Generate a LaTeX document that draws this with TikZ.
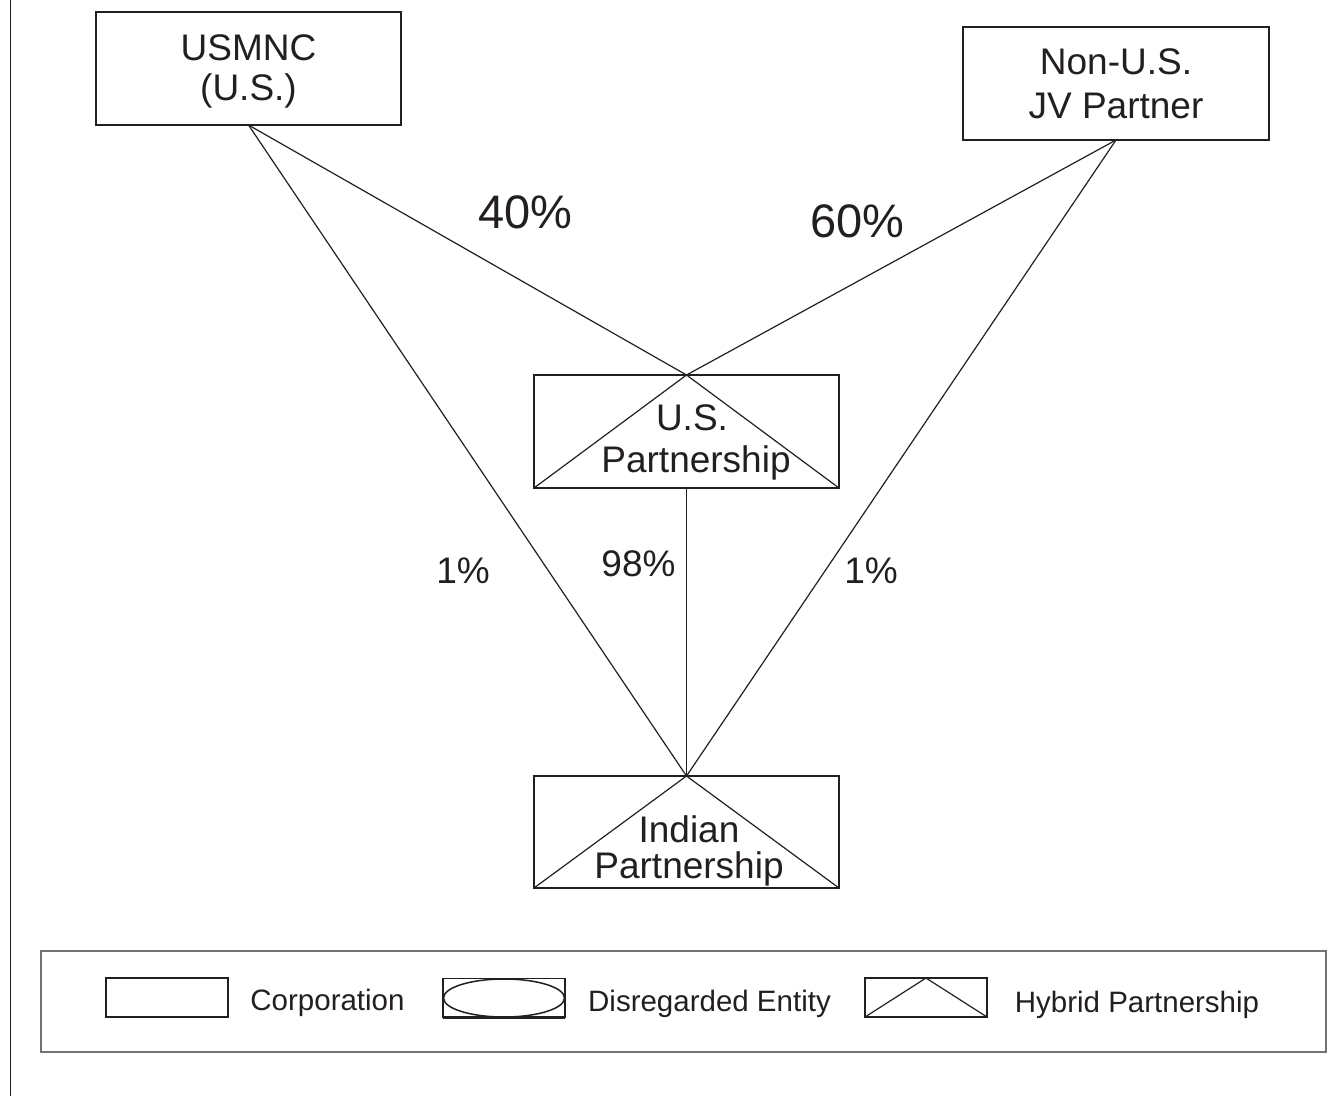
\documentclass[tikz,border=0pt]{standalone}
\usepackage{fontspec}
\setmainfont{Liberation Sans}
\usetikzlibrary{shapes.geometric}
\definecolor{ink}{HTML}{231F20}
\begin{document}
\begin{tikzpicture}[x=1pt,y=-1pt,
  box/.style={draw=ink, line width=1.8pt, outer sep=0pt, inner sep=0pt, minimum width=305pt, minimum height=113pt},
  link/.style={draw=ink, line width=1.2pt},
  lbl/.style={inner sep=0pt, anchor=base, text=ink, font=\fontsize{37}{42}\selectfont},
  pct/.style={inner sep=0pt, anchor=base, text=ink, font=\fontsize{47}{56}\selectfont},
  legtxt/.style={inner sep=0pt, anchor=base, text=ink, font=\fontsize{29.5}{34}\selectfont},
  legbox/.style={draw=ink, line width=1.6pt, outer sep=0pt, inner sep=0pt, minimum width=122pt, minimum height=39pt},
  thickbase/.style={draw=ink, line width=2.6pt}
]
\useasboundingbox (0,0) rectangle (1342,1096);
\fill[white] (0,0) rectangle (1342,1096);

% left rule
\coordinate (lt) at (10.5,0);
\coordinate (lb) at (10.5,1096);
\draw[draw=ink, line width=1.8pt] (lt) -- (lb);

% entity boxes
\node[box] (usmnc) at (248.5,68.5) {};
\node[box, minimum width=306pt] (nonus) at (1116,83.5) {};
\node[box] (usp) at (686.5,431.5) {};
\node[box, minimum height=112pt] (ind) at (686.5,832) {};

% hybrid markings
\draw[link] (usp.south west) -- (usp.north) -- (usp.south east);
\draw[thickbase] (usp.south west) -- (usp.south east);
\draw[link] (ind.south west) -- (ind.north) -- (ind.south east);
\draw[thickbase] (ind.south west) -- (ind.south east);

% box texts
\node[lbl] (usmnc1) at (248.5,60) {USMNC};
\node[lbl] (usmnc2) at (248.5,100) {(U.S.)};
\node[lbl] (nonus1) at (1116,74) {Non-U.S.};
\node[lbl] (nonus2) at (1116,118) {JV Partner};
\node[lbl] (usp1) at (692,430) {U.S.};
\node[lbl] (usp2) at (696,472) {Partnership};
\node[lbl] (ind1) at (689,842) {Indian};
\node[lbl] (ind2) at (689,878) {Partnership};

% connectors
\draw[link] (usmnc.south) -- (usp.north);
\draw[link] (usmnc.south) -- (ind.north);
\draw[link] (nonus.south) -- (usp.north);
\draw[link] (nonus.south) -- (ind.north);
\draw[link] (usp.south) -- (ind.north);

% percentages
\node[pct] (p40) at (525.5,228) {40\%};
\node[pct] (p60) at (857.5,237) {60\%};
\node[lbl] (p1a) at (463,583) {1\%};
\node[lbl] (p98) at (638.5,576) {98\%};
\node[lbl] (p1b) at (871,583) {1\%};

% legend
\node[draw=black!55, line width=1.8pt, outer sep=0pt, inner sep=0pt, minimum width=1285pt, minimum height=101pt] (legend) at (683.5,1001.5) {};
\node[legbox] (lcorp) at (167,997.5) {};
\draw[thickbase] (lcorp.south west) -- (lcorp.south east);
\node[legtxt] (tcorp) at (327.5,1010) {Corporation};
\node[legbox] (ldis) at (504,998) {};
\draw[thickbase] (ldis.south west) -- (ldis.south east);
\node[draw=ink, ellipse, line width=1.5pt, inner sep=0pt, minimum width=121pt, minimum height=38pt] (lell) at (ldis.center) {};
\node[legtxt] (tdis) at (709.5,1011) {Disregarded Entity};
\node[legbox] (lhyb) at (926,997.5) {};
\draw[link] (lhyb.south west) -- (lhyb.north) -- (lhyb.south east);
\draw[thickbase] (lhyb.south west) -- (lhyb.south east);
\node[legtxt] (thyb) at (1137,1012) {Hybrid Partnership};
\end{tikzpicture}
\end{document}
